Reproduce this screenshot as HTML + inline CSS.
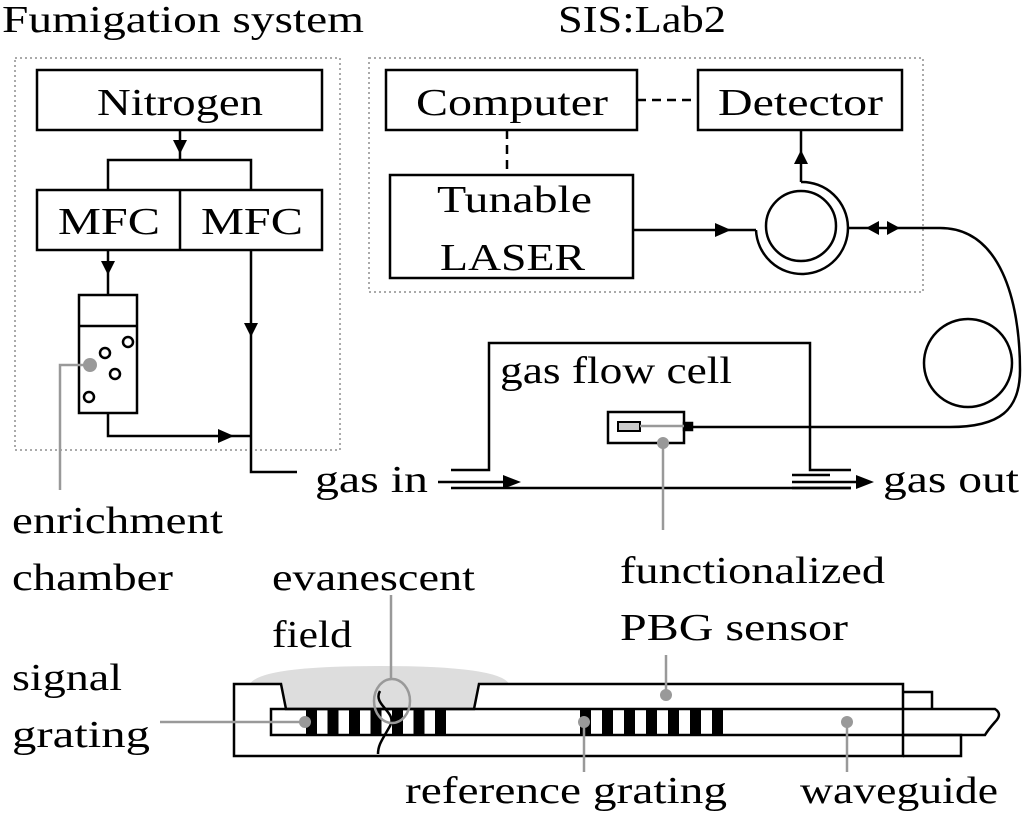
<!DOCTYPE html>
<html><head><meta charset="utf-8"><style>
html,body{margin:0;padding:0;background:#fff;}
svg{display:block;}
text{font-family:"Liberation Serif","Times New Roman",serif;font-size:38px;fill:#000;}
</style></head><body>
<svg width="1024" height="815" viewBox="0 0 1024 815" xmlns="http://www.w3.org/2000/svg">
<path d="M250 684 Q260 666 380 666 Q500 666 509 684 L479 684 L474 709 H286 L281 684 Z" fill="#ddd"/>
<g fill="none" stroke="#000" stroke-width="2.5">
<rect x="15" y="58" width="325" height="392" stroke="#aaa" stroke-width="2" stroke-dasharray="2,3"/>
<rect x="369" y="58" width="554" height="234" stroke="#aaa" stroke-width="2" stroke-dasharray="2,3"/>
<rect x="37" y="70" width="285" height="60"/>
<rect x="37" y="190" width="285" height="60"/>
<line x1="180" y1="190" x2="180" y2="250"/>
<path d="M180 130 V160 M108 190 V160 H251 V190"/>
<path d="M108 250 V295"/>
<rect x="79" y="295" width="58" height="118"/>
<line x1="79" y1="326" x2="137" y2="326"/>
<circle cx="128" cy="342" r="5"/><circle cx="105" cy="353" r="5"/><circle cx="115" cy="374" r="5"/><circle cx="89" cy="397" r="5"/>
<path d="M108 413 V436 H251"/>
<path d="M251 250 V472 H297"/>
<rect x="386" y="70" width="251" height="60"/>
<rect x="698" y="70" width="204" height="60"/>
<rect x="390" y="175" width="243" height="103"/>
<path d="M637 100 H698 M507 130 V175" stroke-dasharray="9,6"/>
<path d="M633 230 H756"/>
<circle cx="801" cy="226" r="35"/>
<path d="M801 182 A46 46 0 1 1 756 230"/>
<path d="M801 182 V130"/>
<path d="M847 228 H940 C1000 228 1020 300 1020 370 C1020 410 1000 427 950 427 H692"/>
<circle cx="968" cy="363" r="44"/>
<path d="M451 470 H489 V343 H810 V470 H851"/>
<path d="M451 488 H851"/>
<path d="M438 482 H505 M792 482 H858"/>
<path d="M792 475 H830 M792 488 H851"/>
<rect x="608" y="412" width="76" height="31"/>
<rect x="684" y="423" width="8" height="7" fill="#000"/>
<rect x="618" y="422" width="22" height="9" stroke-width="2" fill="#ccc"/>
<path d="M234 684 H281 L286 709 H474 L479 684 H903 V756 H234 Z"/>
<path d="M903 692 H932 V709"/>
<path d="M903 735 H961 V756 H903"/>
<path d="M271 709 H995 Q1003 714 995 722 Q988 730 985 735 H271 Z"/>
<path d="M380 691 C372 705 398 712 390 726 C382 740 378 745 378 754"/>
</g>
<g fill="#000">
<path d="M173 140 L187 140 L180 154 z"/>
<path d="M101 261 L115 261 L108 275 z"/>
<path d="M244 323 L258 323 L251 337 z"/>
<path d="M218 429 L218 443 L234 436 z"/>
<path d="M715 223 L715 237 L731 230 z"/>
<path d="M794 164 L808 164 L801 150 z"/>
<path d="M866 228 L879 221 L879 235 z"/>
<path d="M887 221 L887 235 L900 228 z"/>
<path d="M503 475 L503 489 L521 482 z"/>
<path d="M856 475 L856 489 L874 482 z"/>
</g>
<g fill="#000">
<rect x="306" y="709" width="11" height="26"/><rect x="327.5" y="709" width="11" height="26"/><rect x="349" y="709" width="11" height="26"/><rect x="370.5" y="709" width="11" height="26"/><rect x="392" y="709" width="11" height="26"/><rect x="413.5" y="709" width="11" height="26"/><rect x="435" y="709" width="11" height="26"/>
<rect x="580" y="709" width="11" height="26"/><rect x="602" y="709" width="11" height="26"/><rect x="624" y="709" width="11" height="26"/><rect x="646" y="709" width="11" height="26"/><rect x="668" y="709" width="11" height="26"/><rect x="690" y="709" width="11" height="26"/><rect x="712" y="709" width="11" height="26"/>
</g>
<g stroke="#999" stroke-width="2.5" fill="none">
<path d="M90 365 H60 V490"/>
<path d="M640 426 H684"/>
<path d="M663 443 V530"/>
<path d="M305 722 H160"/>
<path d="M584 722 V772"/>
<path d="M847 722 V772"/>
<path d="M666 695 V655"/>
<path d="M391 678 V595"/>
<ellipse cx="392" cy="701" rx="18" ry="22"/>
</g>
<g fill="#999">
<circle cx="90" cy="365" r="7"/><circle cx="663" cy="443" r="6"/><circle cx="305" cy="722" r="6"/><circle cx="584" cy="722" r="6"/><circle cx="847" cy="722" r="6"/><circle cx="666" cy="695" r="6"/>
</g>
<text x="2" y="32" textLength="362" lengthAdjust="spacingAndGlyphs">Fumigation system</text>
<text x="558" y="32" textLength="168" lengthAdjust="spacingAndGlyphs">SIS:Lab2</text>
<text x="97" y="115" textLength="166" lengthAdjust="spacingAndGlyphs">Nitrogen</text>
<text x="58" y="234" textLength="102" lengthAdjust="spacingAndGlyphs">MFC</text>
<text x="201" y="234" textLength="102" lengthAdjust="spacingAndGlyphs">MFC</text>
<text x="416" y="115" textLength="192" lengthAdjust="spacingAndGlyphs">Computer</text>
<text x="718" y="115" textLength="165" lengthAdjust="spacingAndGlyphs">Detector</text>
<text x="437" y="212" textLength="155" lengthAdjust="spacingAndGlyphs">Tunable</text>
<text x="440" y="270" textLength="145" lengthAdjust="spacingAndGlyphs">LASER</text>
<text x="500" y="383" textLength="232" lengthAdjust="spacingAndGlyphs">gas flow cell</text>
<text x="315" y="492" textLength="113" lengthAdjust="spacingAndGlyphs">gas in</text>
<text x="883" y="492" textLength="136" lengthAdjust="spacingAndGlyphs">gas out</text>
<text x="12" y="533" textLength="211" lengthAdjust="spacingAndGlyphs">enrichment</text>
<text x="12" y="590" textLength="161" lengthAdjust="spacingAndGlyphs">chamber</text>
<text x="272" y="590" textLength="203" lengthAdjust="spacingAndGlyphs">evanescent</text>
<text x="272" y="647" textLength="80" lengthAdjust="spacingAndGlyphs">field</text>
<text x="620" y="583" textLength="265" lengthAdjust="spacingAndGlyphs">functionalized</text>
<text x="620" y="640" textLength="228" lengthAdjust="spacingAndGlyphs">PBG sensor</text>
<text x="12" y="690" textLength="110" lengthAdjust="spacingAndGlyphs">signal</text>
<text x="12" y="747" textLength="138" lengthAdjust="spacingAndGlyphs">grating</text>
<text x="405" y="803" textLength="322" lengthAdjust="spacingAndGlyphs">reference grating</text>
<text x="800" y="803" textLength="198" lengthAdjust="spacingAndGlyphs">waveguide</text>
</svg>
</body></html>
